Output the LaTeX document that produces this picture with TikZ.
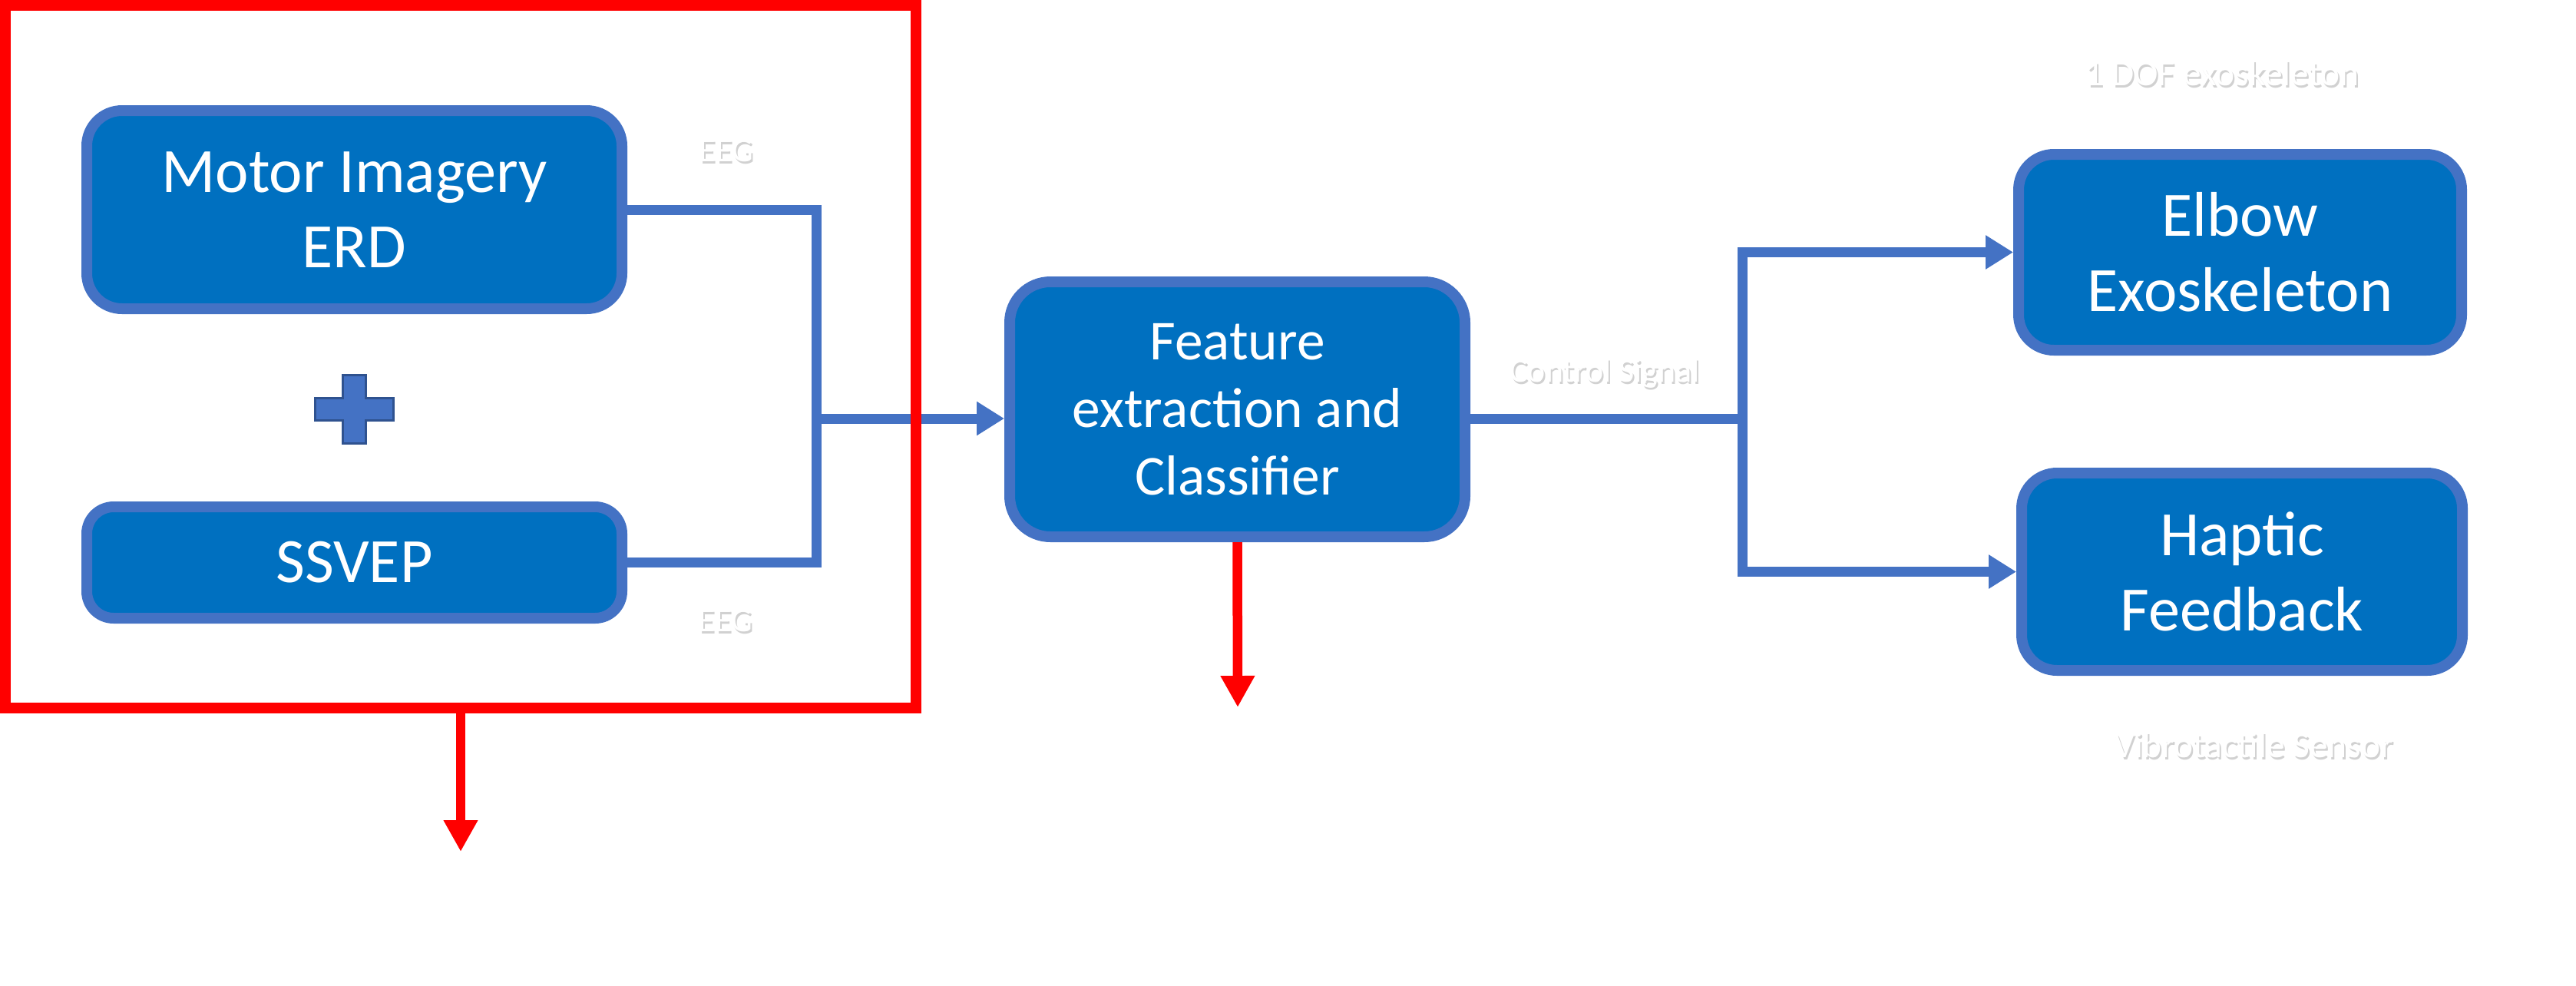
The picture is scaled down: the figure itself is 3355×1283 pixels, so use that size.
\documentclass[tikz,border=0pt]{standalone}
\usepackage{fontspec}
\setmainfont{Carlito}
\usetikzlibrary{arrows.meta}
\definecolor{boxfill}{HTML}{0070C0}
\definecolor{boxline}{HTML}{4472C4}
\definecolor{plusline}{HTML}{2F528F}
\begin{document}
\begin{tikzpicture}[x=0.1mm,y=-0.1mm,
  blk/.style={draw=boxline, fill=boxfill, line width=1.4mm, text=white, align=center,
    rounded corners=4.6mm, inner sep=0pt, font=\fontsize{23.4}{28}\selectfont},
  conn/.style={draw=boxline, line width=1.3mm},
  bluearrow/.style={conn, -{Triangle[length=3.6mm,width=4.2mm]}},
  redarrow/.style={draw=red, line width=1.25mm, -{Triangle[length=4.1mm,width=4.2mm]}},
  lblshadow/.style={text=black!18, inner sep=0pt, anchor=base, font=\fontsize{12.5}{14}\selectfont},
  lbl/.style={text=white, inner sep=0pt, anchor=base, font=\fontsize{12.5}{14}\selectfont}
]
\useasboundingbox (0,0) rectangle (3355,1283);

% boxes
\node[blk, minimum width=69.7mm, minimum height=25.8mm] (motor) at (461.5,273) {Motor Imagery\\ERD};
\node[blk, minimum width=69.7mm, minimum height=14.5mm, rounded corners=3.5mm] (ssvep) at (461.5,732.5) {SSVEP};
\node[blk, minimum width=59.3mm, minimum height=33.2mm, rounded corners=5.3mm,
  font=\fontsize{20.9}{25}\selectfont] (feat) at (1611.5,533) {Feature\\extraction and\\Classifier};
\node[blk, minimum width=57.7mm, minimum height=25.5mm] (elbow) at (2917.5,328.5) {Elbow\\Exoskeleton};
\node[blk, minimum width=57.4mm, minimum height=25.7mm] (haptic) at (2920,744.5) {Haptic\\Feedback};

% plus sign
\fill[boxline, draw=plusline, line width=0.3mm]
  (446,488) -- (476,488) -- (476,518) -- (512,518) -- (512,547) -- (476,547) -- (476,577)
  -- (446,577) -- (446,547) -- (410,547) -- (410,518) -- (446,518) -- cycle;

% connectors
\coordinate (j1) at (1063,545);
\coordinate (j2) at (2269,545);
\draw[conn] (motor.east) -| (j1);
\draw[conn] (ssvep.east) -| (j1);
\draw[bluearrow] (j1) -- (feat.west |- j1);
\draw[conn] (feat.east |- j2) -- (j2);
\draw[bluearrow] (j2) |- (elbow.west);
\draw[bluearrow] (j2) |- (haptic.west);

% red group frame
\node[draw=red, line width=1.4mm, minimum width=118.6mm, minimum height=91.5mm, inner sep=0pt] (grp) at (600,464.5) {};
\coordinate (r1) at (600,1109);
\coordinate (r2) at (1612,921);
\draw[redarrow] (grp.south) -- (r1);
\draw[redarrow] (feat.south) -- (r2);

% faint labels
\node[lblshadow] (eeg1s) at (948,213) {EEG};
\node[lbl] (eeg1) at (946,210) {EEG};
\node[lblshadow] (eeg2s) at (947,825) {EEG};
\node[lbl] (eeg2) at (945,822) {EEG};
\node[lblshadow] (ctrls) at (2092,500) {Control Signal};
\node[lbl] (ctrl) at (2090,497) {Control Signal};
\node[lblshadow, font=\fontsize{13.5}{15}\selectfont] (dofs) at (2896,114) {1 DOF exoskeleton};
\node[lbl, font=\fontsize{13.5}{15}\selectfont] (dof) at (2894,111) {1 DOF exoskeleton};
\node[lblshadow, font=\fontsize{13.5}{15}\selectfont] (vibs) at (2937,989) {Vibrotactile Sensor};
\node[lbl, font=\fontsize{13.5}{15}\selectfont] (vib) at (2935,986) {Vibrotactile Sensor};
\end{tikzpicture}
\end{document}
